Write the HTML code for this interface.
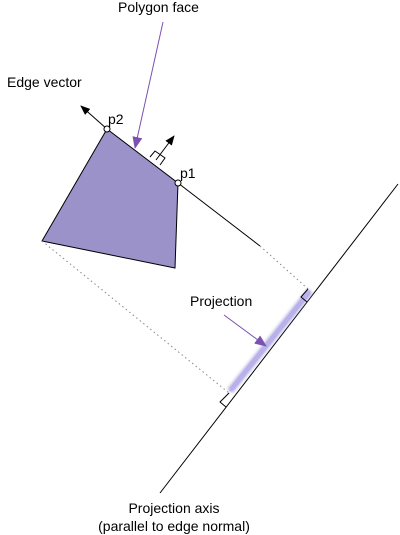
<!DOCTYPE html>
<html><head><meta charset="utf-8"><style>
html,body{margin:0;padding:0;background:#fff}
svg{display:block}
text{font-family:"Liberation Sans",sans-serif;font-size:14px;fill:#000}
</style></head><body>
<svg width="400" height="535" viewBox="0 0 400 535">
<defs>
<marker id="ah" markerWidth="10" markerHeight="8" refX="9" refY="4" orient="auto" markerUnits="userSpaceOnUse"><path d="M0,0 L10,4 L0,8 z" fill="#000"/></marker>
<marker id="ap" markerWidth="12" markerHeight="10" refX="11" refY="5" orient="auto" markerUnits="userSpaceOnUse"><path d="M0,0 L12,5 L0,10 z" fill="#7b52b0"/></marker>
<filter id="blur" x="-20%" y="-20%" width="140%" height="140%"><feGaussianBlur stdDeviation="1.5"/></filter>
</defs>
<polygon points="107,129 178,183 175,268 42,241" fill="#9a92c8" stroke="#000" stroke-width="1"/>
<line x1="178" y1="183" x2="260" y2="246" stroke="#000" stroke-width="1"/>
<line x1="107" y1="129" x2="81" y2="106" stroke="#000" stroke-width="1" marker-end="url(#ah)"/>
<line x1="156" y1="160" x2="174" y2="136" stroke="#000" stroke-width="1" marker-end="url(#ah)"/>
<polyline points="150,157 155,151 165,158 160,165" fill="none" stroke="#000" stroke-width="1"/>
<circle cx="107" cy="129" r="3" fill="#fff" stroke="#000"/>
<circle cx="178" cy="183" r="3" fill="#fff" stroke="#000"/>
<line x1="260" y1="246" x2="308" y2="289" stroke="#888" stroke-width="1" stroke-dasharray="1.5,3"/>
<line x1="42" y1="241" x2="229" y2="393" stroke="#888" stroke-width="1" stroke-dasharray="1.5,3"/>
<line x1="160" y1="493" x2="398" y2="184" stroke="#000" stroke-width="1"/>
<line x1="230" y1="391" x2="310" y2="291" stroke="#a79fe0" stroke-width="6" filter="url(#blur)"/>
<line x1="230" y1="391" x2="310" y2="291" stroke="#b9b2ee" stroke-width="2"/>
<polyline points="308,289 301,297 307,302" fill="none" stroke="#000" stroke-width="1"/>
<polyline points="229,393 220,402 226,407" fill="none" stroke="#000" stroke-width="1"/>
<line x1="163" y1="22" x2="135" y2="148" stroke="#7b52b0" stroke-width="1" marker-end="url(#ap)"/>
<line x1="224" y1="315" x2="266" y2="346" stroke="#7b52b0" stroke-width="1" marker-end="url(#ap)"/>
<text x="118" y="12">Polygon face</text>
<text x="7" y="87">Edge vector</text>
<text x="108" y="124">p2</text>
<text x="180" y="178">p1</text>
<text x="190" y="306">Projection</text>
<text x="174" y="513" text-anchor="middle">Projection axis</text>
<text x="174" y="531" text-anchor="middle">(parallel to edge normal)</text>
</svg>
</body></html>
